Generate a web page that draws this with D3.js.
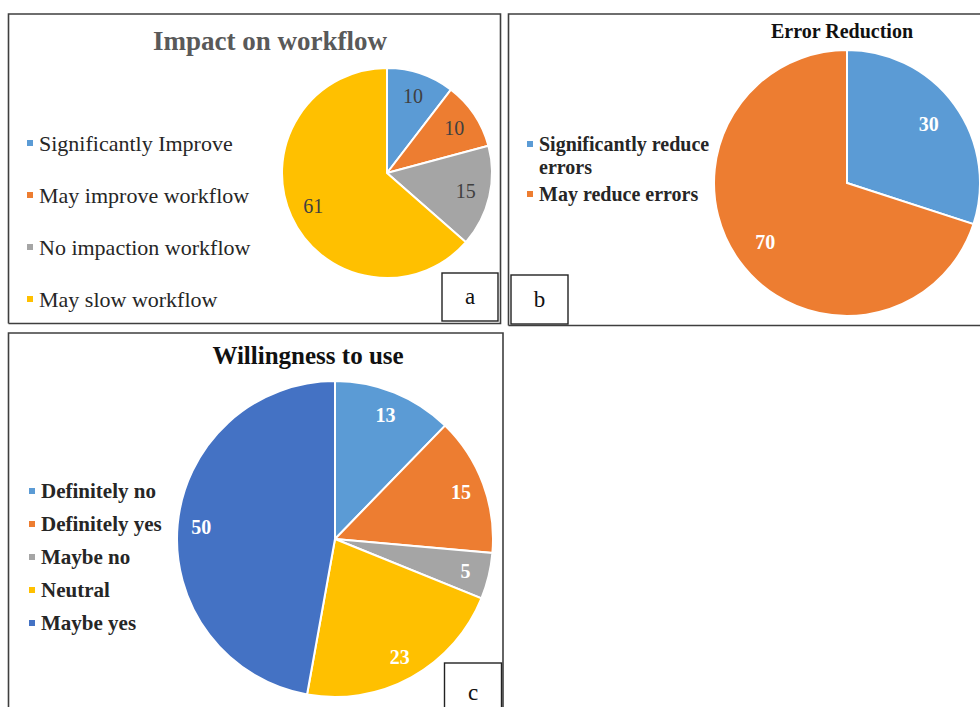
<!DOCTYPE html>
<html>
<head>
<meta charset="utf-8">
<script src="https://cdn.jsdelivr.net/npm/d3@7"></script>
<style>
  html, body { margin: 0; padding: 0; background: #fff; }
  svg { display: block; }
  text { font-family: "Liberation Serif", "Times New Roman", serif; }
</style>
</head>
<body>
<svg id="chart" width="980" height="707"></svg>
<script>
// ---- Data ----
const workflowCategories = ["Significantly Improve", "May improve workflow", "No impaction workflow", "May slow workflow"];
const workflowValues = [10, 10, 15, 61];
const workflowColors = ["#5B9BD5", "#ED7D31", "#A5A5A5", "#FFC000"];

const errorCategories = [["Significantly reduce", "errors"], ["May reduce errors"]];
const errorValues = [30, 70];
const errorColors = ["#5B9BD5", "#ED7D31"];

const willingCategories = ["Definitely no", "Definitely yes", "Maybe no", "Neutral", "Maybe yes"];
const willingValues = [13, 15, 5, 23, 50];
const willingColors = ["#5B9BD5", "#ED7D31", "#A5A5A5", "#FFC000", "#4472C4"];

const panelLetters = ["a", "b", "c"];

// ---- Drawing ----
const svg = d3.select("#chart");
svg.append("rect").attr("width", 980).attr("height", 707).attr("fill", "#fff");

function panelBorder(x0, y0, x1, y1) {
  svg.append("path")
    .attr("d", `M${x0},${y1} L${x0},${y0} L${x1},${y0} L${x1},${y1} L${x0},${y1}`)
    .attr("fill", "none").attr("stroke", "#3f3f3f").attr("stroke-width", 1.6);
}
function letterBox(x0, y0, w, h, letter) {
  svg.append("rect").attr("x", x0).attr("y", y0).attr("width", w).attr("height", h)
    .attr("fill", "#fff").attr("stroke", "#222").attr("stroke-width", 1.4);
  svg.append("text").attr("x", x0 + w / 2).attr("y", y0 + h / 2 + 2)
    .attr("text-anchor", "middle").attr("dominant-baseline", "middle")
    .attr("font-size", 23).attr("fill", "#111").text(letter);
}

function drawPie(opts) {
  const pie = d3.pie().sort(null).value(d => d)(opts.values);
  const arc = d3.arc().innerRadius(0).outerRadius(opts.r);
  const labelArc = d3.arc().innerRadius(opts.r * opts.labelRatio).outerRadius(opts.r * opts.labelRatio);
  const color = d3.scaleOrdinal().domain(d3.range(opts.values.length)).range(opts.colors);
  const g = svg.append("g").attr("transform", `translate(${opts.cx},${opts.cy})`);
  g.selectAll("path.slice").data(pie).join("path")
    .attr("class", "slice")
    .attr("d", arc)
    .attr("fill", (d, i) => color(i))
    .attr("stroke", "#fff").attr("stroke-width", 2);
  g.selectAll("text.lbl").data(pie).join("text")
    .attr("class", "lbl")
    .attr("transform", d => `translate(${labelArc.centroid(d)})`)
    .attr("text-anchor", "middle").attr("dominant-baseline", "central")
    .attr("font-size", opts.labelSize)
    .attr("font-weight", opts.labelWeight)
    .attr("fill", opts.labelColor)
    .text(d => d.data);
}

// Panel a
panelBorder(8.5, 14, 500.5, 323.5);
svg.append("text").attr("x", 270).attr("y", 50).attr("text-anchor", "middle")
  .attr("font-size", 27).attr("font-weight", "bold").attr("fill", "#595959")
  .text("Impact on workflow");
drawPie({ values: workflowValues, colors: workflowColors, cx: 387, cy: 173, r: 105,
  labelRatio: 0.77, labelSize: 20, labelWeight: "normal", labelColor: "#404040" });
const legA = svg.append("g");
workflowCategories.forEach((c, i) => {
  const y = 143 + i * 52;
  legA.append("rect").attr("x", 27).attr("y", y - 3).attr("width", 6).attr("height", 6).attr("fill", workflowColors[i]);
  legA.append("text").attr("x", 39).attr("y", y).attr("dominant-baseline", "central")
    .attr("font-size", 22).attr("fill", "#262626").text(c);
});
letterBox(442, 273, 56, 48, panelLetters[0]);

// Panel b
panelBorder(508.5, 14, 990, 325.5);
svg.append("text").attr("x", 842).attr("y", 38).attr("text-anchor", "middle")
  .attr("font-size", 20).attr("font-weight", "bold").attr("fill", "#111")
  .text("Error Reduction");
drawPie({ values: errorValues, colors: errorColors, cx: 847, cy: 183, r: 133,
  labelRatio: 0.76, labelSize: 20, labelWeight: "bold", labelColor: "#fff" });
const legB = svg.append("g");
const legBY = [144, 194];
errorCategories.forEach((lines, i) => {
  const y = legBY[i];
  legB.append("rect").attr("x", 527).attr("y", y - 3).attr("width", 6).attr("height", 6).attr("fill", errorColors[i]);
  lines.forEach((ln, j) => {
    legB.append("text").attr("x", 539).attr("y", y + j * 23).attr("dominant-baseline", "central")
      .attr("font-size", 20).attr("font-weight", "bold").attr("fill", "#262626").text(ln);
  });
});
letterBox(511, 275, 57, 49, panelLetters[1]);

// Panel c
panelBorder(8.5, 333, 503, 720);
svg.append("text").attr("x", 308).attr("y", 364).attr("text-anchor", "middle")
  .attr("font-size", 25).attr("font-weight", "bold").attr("fill", "#111")
  .text("Willingness to use");
drawPie({ values: willingValues, colors: willingColors, cx: 335, cy: 539, r: 158,
  labelRatio: 0.85, labelSize: 20, labelWeight: "bold", labelColor: "#fff" });
const legC = svg.append("g");
willingCategories.forEach((c, i) => {
  const y = 491 + i * 33;
  legC.append("rect").attr("x", 29).attr("y", y - 3).attr("width", 6).attr("height", 6).attr("fill", willingColors[i]);
  legC.append("text").attr("x", 41).attr("y", y).attr("dominant-baseline", "central")
    .attr("font-size", 21).attr("font-weight", "bold").attr("fill", "#262626").text(c);
});
letterBox(444.5, 663, 57, 60, panelLetters[2]);
</script>
</body>
</html>
